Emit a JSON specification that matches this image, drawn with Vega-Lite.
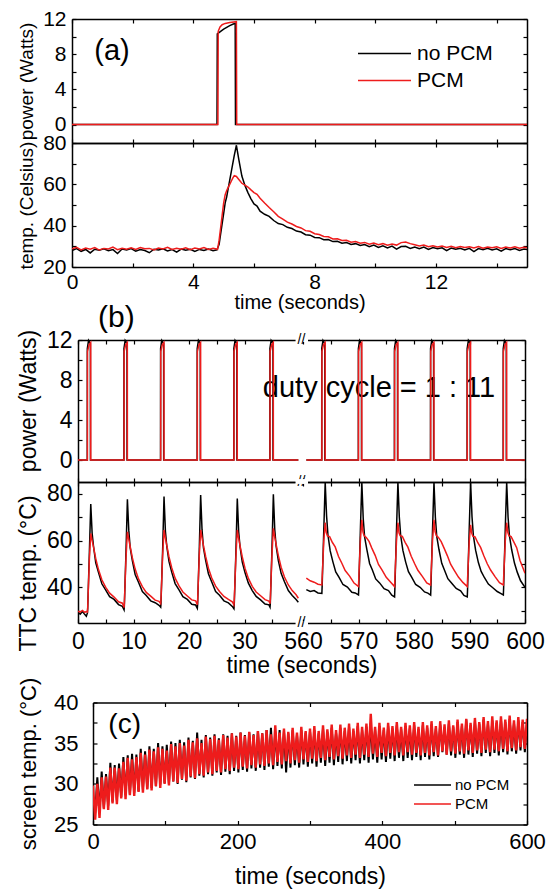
{
"$schema": "https://vega.github.io/schema/vega-lite/v6.json",
"background": "white",
"padding": {"left": 17, "top": 8, "right": 4, "bottom": 0},
"config": {
  "view": {"stroke": null},
  "font": "Liberation Sans",
  "axis": {"grid": false, "domainColor": "#000000", "domainWidth": 1.5, "tickColor": "#000000", "tickWidth": 1.2, "tickSize": -4, "labelColor": "#000000", "titleColor": "#000000", "titleFontWeight": "normal", "labelFlush": false, "labelOverlap": false, "labelBound": false, "labelFont": "Liberation Sans", "titleFont": "Liberation Sans"},
  "line": {"strokeWidth": 1.5},
  "legend": {"labelFont": "Liberation Sans", "labelColor": "#000000"}
},
"datasets": {
"pa_b": [{"t":0,"v":0},{"t":4.78,"v":0},{"t":4.79,"v":10.3},{"t":4.9,"v":10.6},{"t":5.0,"v":10.85},{"t":5.1,"v":11.05},{"t":5.2,"v":11.25},{"t":5.3,"v":11.4},{"t":5.38,"v":11.5},{"t":5.39,"v":0},{"t":15,"v":0}],
"pa_r": [{"t":0,"v":0},{"t":4.81,"v":0},{"t":4.82,"v":10.6},{"t":4.88,"v":11.1},{"t":4.95,"v":11.35},{"t":5.05,"v":11.5},{"t":5.2,"v":11.6},{"t":5.42,"v":11.7},{"t":5.43,"v":0},{"t":15,"v":0}],
"ta_b": [{"t":0,"v":28.0},{"t":0.15,"v":28.9},{"t":0.3,"v":27.6},{"t":0.45,"v":28.5},{"t":0.6,"v":26.8},{"t":0.75,"v":28.6},{"t":0.9,"v":28.1},{"t":1.05,"v":28.8},{"t":1.2,"v":27.9},{"t":1.35,"v":28.4},{"t":1.5,"v":26.5},{"t":1.65,"v":28.7},{"t":1.8,"v":28.2},{"t":1.95,"v":28.9},{"t":2.1,"v":27.7},{"t":2.25,"v":28.5},{"t":2.4,"v":28.0},{"t":2.55,"v":26.9},{"t":2.7,"v":28.6},{"t":2.85,"v":28.2},{"t":3.0,"v":28.8},{"t":3.15,"v":27.8},{"t":3.3,"v":28.4},{"t":3.45,"v":27.2},{"t":3.6,"v":28.7},{"t":3.75,"v":28.1},{"t":3.9,"v":28.6},{"t":4.05,"v":27.5},{"t":4.2,"v":28.5},{"t":4.35,"v":28.0},{"t":4.5,"v":28.7},{"t":4.65,"v":27.9},{"t":4.78,"v":28.3},{"t":4.85,"v":31},{"t":4.9,"v":36},{"t":4.95,"v":41},{"t":5.0,"v":46},{"t":5.05,"v":51},{"t":5.1,"v":54},{"t":5.15,"v":58},{"t":5.2,"v":62},{"t":5.25,"v":66},{"t":5.3,"v":70},{"t":5.35,"v":74},{"t":5.42,"v":78.9},{"t":5.5,"v":72},{"t":5.6,"v":64},{"t":5.7,"v":59.5},{"t":5.8,"v":56},{"t":5.9,"v":53},{"t":6.0,"v":50.5},{"t":6.1,"v":49.5},{"t":6.2,"v":47},{"t":6.35,"v":45.5},{"t":6.5,"v":44.5},{"t":6.65,"v":42.5},{"t":6.8,"v":41.0},{"t":6.95,"v":40.5},{"t":7.1,"v":39.2},{"t":7.25,"v":38.6},{"t":7.4,"v":37.4},{"t":7.55,"v":36.9},{"t":7.7,"v":35.6},{"t":7.85,"v":35.4},{"t":8.0,"v":34.3},{"t":8.15,"v":34.2},{"t":8.3,"v":33.2},{"t":8.45,"v":33.3},{"t":8.6,"v":32.3},{"t":8.75,"v":32.4},{"t":8.9,"v":31.5},{"t":9.05,"v":31.8},{"t":9.2,"v":30.9},{"t":9.35,"v":31.3},{"t":9.5,"v":30.4},{"t":9.65,"v":30.9},{"t":9.8,"v":29.8},{"t":9.95,"v":30.6},{"t":10.1,"v":29.5},{"t":10.25,"v":30.3},{"t":10.4,"v":29.2},{"t":10.55,"v":30.1},{"t":10.7,"v":28.6},{"t":10.85,"v":29.9},{"t":11.0,"v":30.0},{"t":11.15,"v":29.0},{"t":11.3,"v":29.7},{"t":11.45,"v":28.9},{"t":11.6,"v":29.6},{"t":11.75,"v":28.5},{"t":11.9,"v":29.4},{"t":12.05,"v":28.8},{"t":12.2,"v":29.3},{"t":12.35,"v":27.9},{"t":12.5,"v":29.2},{"t":12.65,"v":28.6},{"t":12.8,"v":29.1},{"t":12.95,"v":28.3},{"t":13.1,"v":29.0},{"t":13.25,"v":27.4},{"t":13.4,"v":28.9},{"t":13.55,"v":28.4},{"t":13.7,"v":29.0},{"t":13.85,"v":28.2},{"t":14.0,"v":28.8},{"t":14.15,"v":27.7},{"t":14.3,"v":28.9},{"t":14.45,"v":28.3},{"t":14.6,"v":28.9},{"t":14.75,"v":28.0},{"t":14.9,"v":28.7},{"t":15.0,"v":28.4}],
"ta_r": [{"t":0,"v":28.8},{"t":0.15,"v":29.5},{"t":0.3,"v":28.3},{"t":0.45,"v":29.2},{"t":0.6,"v":28.6},{"t":0.75,"v":29.4},{"t":0.9,"v":28.2},{"t":1.05,"v":29.0},{"t":1.2,"v":28.7},{"t":1.35,"v":29.6},{"t":1.5,"v":28.4},{"t":1.65,"v":29.1},{"t":1.8,"v":28.6},{"t":1.95,"v":29.3},{"t":2.1,"v":28.5},{"t":2.25,"v":29.4},{"t":2.4,"v":28.8},{"t":2.55,"v":29.0},{"t":2.7,"v":28.3},{"t":2.85,"v":29.2},{"t":3.0,"v":28.7},{"t":3.15,"v":29.5},{"t":3.3,"v":28.5},{"t":3.45,"v":29.1},{"t":3.6,"v":28.6},{"t":3.75,"v":29.3},{"t":3.9,"v":28.4},{"t":4.05,"v":29.2},{"t":4.2,"v":28.7},{"t":4.35,"v":29.4},{"t":4.5,"v":28.5},{"t":4.65,"v":29.1},{"t":4.8,"v":28.6},{"t":4.85,"v":33},{"t":4.9,"v":39},{"t":4.95,"v":45},{"t":5.0,"v":51},{"t":5.05,"v":55},{"t":5.1,"v":57},{"t":5.15,"v":58.5},{"t":5.2,"v":60},{"t":5.25,"v":61.5},{"t":5.3,"v":63},{"t":5.35,"v":64.2},{"t":5.42,"v":63.8},{"t":5.5,"v":62.3},{"t":5.6,"v":60.5},{"t":5.7,"v":59.6},{"t":5.8,"v":58.7},{"t":5.9,"v":57.3},{"t":6.0,"v":56.0},{"t":6.1,"v":55.2},{"t":6.2,"v":53.3},{"t":6.35,"v":51.0},{"t":6.5,"v":48.8},{"t":6.65,"v":46.7},{"t":6.8,"v":44.5},{"t":6.95,"v":43.2},{"t":7.1,"v":41.7},{"t":7.25,"v":40.8},{"t":7.4,"v":39.6},{"t":7.55,"v":38.9},{"t":7.7,"v":37.6},{"t":7.85,"v":37.3},{"t":8.0,"v":36.1},{"t":8.15,"v":35.7},{"t":8.3,"v":34.8},{"t":8.45,"v":34.6},{"t":8.6,"v":33.6},{"t":8.75,"v":33.7},{"t":8.9,"v":32.8},{"t":9.05,"v":32.9},{"t":9.2,"v":32.0},{"t":9.35,"v":32.3},{"t":9.5,"v":31.5},{"t":9.65,"v":31.9},{"t":9.8,"v":31.0},{"t":9.95,"v":31.6},{"t":10.1,"v":30.8},{"t":10.25,"v":31.3},{"t":10.4,"v":30.5},{"t":10.55,"v":31.1},{"t":10.7,"v":30.6},{"t":10.85,"v":31.8},{"t":11.0,"v":32.1},{"t":11.15,"v":31.3},{"t":11.3,"v":30.8},{"t":11.45,"v":30.2},{"t":11.6,"v":30.6},{"t":11.75,"v":29.8},{"t":11.9,"v":30.3},{"t":12.05,"v":29.7},{"t":12.2,"v":30.2},{"t":12.35,"v":29.5},{"t":12.5,"v":30.0},{"t":12.65,"v":29.3},{"t":12.8,"v":29.9},{"t":12.95,"v":29.4},{"t":13.1,"v":29.8},{"t":13.25,"v":29.2},{"t":13.4,"v":29.9},{"t":13.55,"v":29.1},{"t":13.7,"v":29.7},{"t":13.85,"v":29.3},{"t":14.0,"v":29.8},{"t":14.15,"v":29.0},{"t":14.3,"v":29.7},{"t":14.45,"v":29.2},{"t":14.6,"v":29.8},{"t":14.75,"v":29.1},{"t":14.9,"v":29.6},{"t":15.0,"v":29.3}],
"pb_b": [{"t":0,"v":0},{"t":1.67,"v":0},{"t":1.68,"v":11.2},{"t":1.9,"v":12.0},{"t":2.23,"v":11.7},{"t":2.24,"v":0},{"t":8.27,"v":0},{"t":8.28,"v":11.2},{"t":8.5,"v":12.0},{"t":8.83,"v":11.7},{"t":8.84,"v":0},{"t":14.87,"v":0},{"t":14.88,"v":11.2},{"t":15.1,"v":12.0},{"t":15.43,"v":11.7},{"t":15.44,"v":0},{"t":21.47,"v":0},{"t":21.48,"v":11.2},{"t":21.7,"v":12.0},{"t":22.03,"v":11.7},{"t":22.04,"v":0},{"t":28.07,"v":0},{"t":28.08,"v":11.2},{"t":28.3,"v":12.0},{"t":28.63,"v":11.7},{"t":28.64,"v":0},{"t":34.57,"v":0},{"t":34.58,"v":11.2},{"t":34.8,"v":12.0},{"t":35.13,"v":11.7},{"t":35.14,"v":0},{"t":39.7,"v":0},{"t":560.6,"v":0},{"t":563.37,"v":0},{"t":563.38,"v":11.2},{"t":563.6,"v":12.0},{"t":563.93,"v":11.7},{"t":563.94,"v":0},{"t":569.97,"v":0},{"t":569.98,"v":11.2},{"t":570.2,"v":12.0},{"t":570.53,"v":11.7},{"t":570.54,"v":0},{"t":576.47,"v":0},{"t":576.48,"v":11.2},{"t":576.7,"v":12.0},{"t":577.03,"v":11.7},{"t":577.04,"v":0},{"t":582.97,"v":0},{"t":582.98,"v":11.2},{"t":583.2,"v":12.0},{"t":583.53,"v":11.7},{"t":583.54,"v":0},{"t":589.57,"v":0},{"t":589.58,"v":11.2},{"t":589.8,"v":12.0},{"t":590.13,"v":11.7},{"t":590.14,"v":0},{"t":596.07,"v":0},{"t":596.08,"v":11.2},{"t":596.3,"v":12.0},{"t":596.63,"v":11.7},{"t":596.64,"v":0},{"t":600,"v":0}],
"pb_r": [{"t":0,"v":0},{"t":1.7,"v":0},{"t":1.71,"v":10.9},{"t":2.0,"v":11.6},{"t":2.29,"v":11.8},{"t":2.3,"v":0},{"t":8.3,"v":0},{"t":8.31,"v":10.9},{"t":8.6,"v":11.6},{"t":8.89,"v":11.8},{"t":8.9,"v":0},{"t":14.9,"v":0},{"t":14.91,"v":10.9},{"t":15.2,"v":11.6},{"t":15.49,"v":11.8},{"t":15.5,"v":0},{"t":21.5,"v":0},{"t":21.51,"v":10.9},{"t":21.8,"v":11.6},{"t":22.09,"v":11.8},{"t":22.1,"v":0},{"t":28.1,"v":0},{"t":28.11,"v":10.9},{"t":28.4,"v":11.6},{"t":28.69,"v":11.8},{"t":28.7,"v":0},{"t":34.6,"v":0},{"t":34.61,"v":10.9},{"t":34.9,"v":11.6},{"t":35.19,"v":11.8},{"t":35.2,"v":0},{"t":39.7,"v":0},{"t":560.6,"v":0},{"t":563.4,"v":0},{"t":563.41,"v":10.9},{"t":563.7,"v":11.6},{"t":563.99,"v":11.8},{"t":564.0,"v":0},{"t":570.0,"v":0},{"t":570.01,"v":10.9},{"t":570.3,"v":11.6},{"t":570.59,"v":11.8},{"t":570.6,"v":0},{"t":576.5,"v":0},{"t":576.51,"v":10.9},{"t":576.8,"v":11.6},{"t":577.09,"v":11.8},{"t":577.1,"v":0},{"t":583.0,"v":0},{"t":583.01,"v":10.9},{"t":583.3,"v":11.6},{"t":583.59,"v":11.8},{"t":583.6,"v":0},{"t":589.6,"v":0},{"t":589.61,"v":10.9},{"t":589.9,"v":11.6},{"t":590.19,"v":11.8},{"t":590.2,"v":0},{"t":596.1,"v":0},{"t":596.11,"v":10.9},{"t":596.4,"v":11.6},{"t":596.69,"v":11.8},{"t":596.7,"v":0},{"t":600,"v":0}],
"tb_b": [{"t":0,"v":29.3},{"t":0.4,"v":28.5},{"t":0.8,"v":29.6},{"t":1.2,"v":28.4},{"t":1.5,"v":27.6},{"t":1.7,"v":29.0},{"t":1.75,"v":31},{"t":2.05,"v":55},{"t":2.3,"v":75.7},{"t":2.55,"v":63},{"t":2.8,"v":57.5},{"t":3.2,"v":50.5},{"t":3.7,"v":46.3},{"t":4.3,"v":41.5},{"t":5.0,"v":38.8},{"t":5.7,"v":36},{"t":6.5,"v":34.8},{"t":7.3,"v":32.6},{"t":8.0,"v":31.8},{"t":8.3,"v":30.3},{"t":8.35,"v":32},{"t":8.65,"v":55.5},{"t":8.9,"v":77.7},{"t":9.15,"v":64.5},{"t":9.4,"v":57},{"t":9.8,"v":51.3},{"t":10.3,"v":45.5},{"t":10.9,"v":42.2},{"t":11.6,"v":38.2},{"t":12.3,"v":36.5},{"t":13.1,"v":34.2},{"t":13.9,"v":33.4},{"t":14.6,"v":32.3},{"t":14.9,"v":31.5},{"t":14.95,"v":33},{"t":15.25,"v":56},{"t":15.5,"v":78.9},{"t":15.75,"v":64},{"t":16.0,"v":57.5},{"t":16.4,"v":51},{"t":16.9,"v":46.4},{"t":17.5,"v":41.6},{"t":18.2,"v":38.9},{"t":18.9,"v":36},{"t":19.7,"v":34.8},{"t":20.5,"v":32.7},{"t":21.2,"v":32.4},{"t":21.5,"v":31.0},{"t":21.55,"v":32.5},{"t":21.85,"v":56},{"t":22.1,"v":79.6},{"t":22.35,"v":64.6},{"t":22.6,"v":57},{"t":23.0,"v":51.5},{"t":23.5,"v":45.8},{"t":24.1,"v":42.3},{"t":24.8,"v":38.2},{"t":25.5,"v":36.6},{"t":26.3,"v":34.2},{"t":27.1,"v":33.3},{"t":27.8,"v":31.8},{"t":28.1,"v":30.8},{"t":28.15,"v":32.3},{"t":28.45,"v":55},{"t":28.7,"v":78.1},{"t":28.95,"v":63.8},{"t":29.2,"v":57.3},{"t":29.6,"v":50.8},{"t":30.1,"v":46.2},{"t":30.7,"v":41.8},{"t":31.4,"v":38.6},{"t":32.1,"v":36.1},{"t":32.9,"v":34.6},{"t":33.7,"v":32.8},{"t":34.4,"v":32.5},{"t":34.6,"v":31.5},{"t":34.65,"v":33},{"t":34.95,"v":56.5},{"t":35.2,"v":79.9},{"t":35.45,"v":64.8},{"t":35.7,"v":57.6},{"t":36.1,"v":51.4},{"t":36.6,"v":46},{"t":37.2,"v":42.4},{"t":37.9,"v":38.6},{"t":38.6,"v":36.5},{"t":39.3,"v":34.8},{"t":39.7,"v":33.6},{"t":560.6,"v":39.0},{"t":561.3,"v":38.2},{"t":562.0,"v":38.6},{"t":562.7,"v":37.6},{"t":563.4,"v":37.4},{"t":563.45,"v":40.5},{"t":563.75,"v":65},{"t":564.0,"v":85},{"t":564.25,"v":70.5},{"t":564.5,"v":62.3},{"t":564.9,"v":55.6},{"t":565.4,"v":50.8},{"t":565.9,"v":46.6},{"t":566.5,"v":44.3},{"t":567.2,"v":41.2},{"t":568.0,"v":40.1},{"t":568.8,"v":37.9},{"t":569.4,"v":37.6},{"t":570.0,"v":36.7},{"t":570.05,"v":39.8},{"t":570.35,"v":65.5},{"t":570.6,"v":85},{"t":570.85,"v":69.5},{"t":571.1,"v":61.6},{"t":571.5,"v":56.3},{"t":572.0,"v":50.2},{"t":572.5,"v":47.4},{"t":573.1,"v":43.6},{"t":573.8,"v":41.9},{"t":574.6,"v":39.4},{"t":575.4,"v":38.6},{"t":576.0,"v":36.6},{"t":576.5,"v":35.9},{"t":576.55,"v":39},{"t":576.85,"v":65},{"t":577.1,"v":85},{"t":577.35,"v":70.2},{"t":577.6,"v":62.2},{"t":578.0,"v":55.8},{"t":578.5,"v":50.8},{"t":579.0,"v":46.7},{"t":579.6,"v":44.3},{"t":580.3,"v":41.2},{"t":581.1,"v":40.0},{"t":581.9,"v":38},{"t":582.5,"v":37.5},{"t":583.0,"v":36.7},{"t":583.05,"v":39.8},{"t":583.35,"v":65.5},{"t":583.6,"v":85},{"t":583.85,"v":70},{"t":584.1,"v":61.8},{"t":584.5,"v":56.2},{"t":585.0,"v":50.3},{"t":585.5,"v":47.3},{"t":586.1,"v":43.7},{"t":586.8,"v":41.7},{"t":587.6,"v":39.5},{"t":588.4,"v":38.5},{"t":589.0,"v":36.5},{"t":589.6,"v":35.9},{"t":589.65,"v":39},{"t":589.95,"v":65},{"t":590.2,"v":85},{"t":590.45,"v":70.3},{"t":590.7,"v":62.1},{"t":591.1,"v":55.9},{"t":591.6,"v":50.6},{"t":592.1,"v":46.8},{"t":592.7,"v":44.1},{"t":593.4,"v":41.4},{"t":594.2,"v":39.8},{"t":595.0,"v":38.2},{"t":595.6,"v":37.4},{"t":596.1,"v":36.7},{"t":596.15,"v":39.8},{"t":596.45,"v":65.5},{"t":596.7,"v":85},{"t":596.95,"v":70},{"t":597.2,"v":62},{"t":597.6,"v":56.1},{"t":598.1,"v":50.4},{"t":598.6,"v":46.5},{"t":599.2,"v":42.8},{"t":600,"v":40}],
"tb_r": [{"t":0,"v":29.8},{"t":0.4,"v":29.4},{"t":0.8,"v":30.1},{"t":1.2,"v":29.3},{"t":1.5,"v":29.6},{"t":1.7,"v":29.4},{"t":1.75,"v":31.5},{"t":2.05,"v":52},{"t":2.3,"v":63.1},{"t":2.55,"v":60},{"t":2.8,"v":57.2},{"t":3.2,"v":52.3},{"t":3.7,"v":47.5},{"t":4.3,"v":43.2},{"t":5.0,"v":40},{"t":5.7,"v":37.5},{"t":6.5,"v":35.8},{"t":7.3,"v":33.8},{"t":8.0,"v":33.2},{"t":8.3,"v":31.3},{"t":8.35,"v":33},{"t":8.65,"v":52.5},{"t":8.9,"v":63.8},{"t":9.15,"v":60.5},{"t":9.4,"v":57.5},{"t":9.8,"v":52.6},{"t":10.3,"v":47.8},{"t":10.9,"v":43.6},{"t":11.6,"v":40.3},{"t":12.3,"v":37.8},{"t":13.1,"v":36.2},{"t":13.9,"v":34.5},{"t":14.6,"v":34},{"t":14.9,"v":33},{"t":14.95,"v":34.5},{"t":15.25,"v":53.5},{"t":15.5,"v":64.6},{"t":15.75,"v":61},{"t":16.0,"v":58},{"t":16.4,"v":53},{"t":16.9,"v":48.3},{"t":17.5,"v":43.9},{"t":18.2,"v":40.6},{"t":18.9,"v":38},{"t":19.7,"v":36.3},{"t":20.5,"v":34.6},{"t":21.2,"v":34.2},{"t":21.5,"v":32.6},{"t":21.55,"v":34},{"t":21.85,"v":53.5},{"t":22.1,"v":64.6},{"t":22.35,"v":61.2},{"t":22.6,"v":58},{"t":23.0,"v":53.2},{"t":23.5,"v":48.2},{"t":24.1,"v":44},{"t":24.8,"v":40.5},{"t":25.5,"v":38.2},{"t":26.3,"v":36.1},{"t":27.1,"v":34.8},{"t":27.8,"v":33.8},{"t":28.1,"v":32.4},{"t":28.15,"v":34},{"t":28.45,"v":53},{"t":28.7,"v":64.6},{"t":28.95,"v":61},{"t":29.2,"v":57.8},{"t":29.6,"v":53},{"t":30.1,"v":48.1},{"t":30.7,"v":43.8},{"t":31.4,"v":40.4},{"t":32.1,"v":38},{"t":32.9,"v":36.4},{"t":33.7,"v":34.7},{"t":34.4,"v":34.1},{"t":34.6,"v":33},{"t":34.65,"v":34.5},{"t":34.95,"v":54},{"t":35.2,"v":65.3},{"t":35.45,"v":61.5},{"t":35.7,"v":58.4},{"t":36.1,"v":53.6},{"t":36.6,"v":48.6},{"t":37.2,"v":44.4},{"t":37.9,"v":41},{"t":38.6,"v":38.6},{"t":39.3,"v":36.8},{"t":39.7,"v":35.3},{"t":560.6,"v":43.9},{"t":561.3,"v":42.8},{"t":562.0,"v":42.2},{"t":562.7,"v":41.3},{"t":563.4,"v":41.0},{"t":563.45,"v":44},{"t":563.75,"v":60},{"t":564.0,"v":67.7},{"t":564.2,"v":63.5},{"t":564.4,"v":62},{"t":564.8,"v":61.7},{"t":565.3,"v":59.2},{"t":565.8,"v":57.3},{"t":566.4,"v":53.2},{"t":567.0,"v":50.3},{"t":567.6,"v":47.2},{"t":568.4,"v":44.8},{"t":569.2,"v":41.8},{"t":570.0,"v":40.3},{"t":570.05,"v":43.5},{"t":570.35,"v":60.5},{"t":570.6,"v":68.9},{"t":570.8,"v":63.8},{"t":571.0,"v":62.2},{"t":571.4,"v":61.3},{"t":571.9,"v":59.7},{"t":572.4,"v":56.8},{"t":573.0,"v":53.7},{"t":573.6,"v":49.8},{"t":574.2,"v":47.6},{"t":575.0,"v":44.3},{"t":575.8,"v":42.2},{"t":576.5,"v":40.3},{"t":576.55,"v":43.5},{"t":576.85,"v":60},{"t":577.1,"v":67.7},{"t":577.3,"v":63.4},{"t":577.5,"v":62.1},{"t":577.9,"v":61.8},{"t":578.4,"v":59.3},{"t":578.9,"v":57.2},{"t":579.5,"v":53.3},{"t":580.1,"v":50.2},{"t":580.7,"v":47.3},{"t":581.5,"v":44.7},{"t":582.3,"v":41.9},{"t":583.0,"v":41.0},{"t":583.05,"v":44},{"t":583.35,"v":60.5},{"t":583.6,"v":68.9},{"t":583.8,"v":63.9},{"t":584.0,"v":62.3},{"t":584.4,"v":61.4},{"t":584.9,"v":59.6},{"t":585.4,"v":56.9},{"t":586.0,"v":53.6},{"t":586.6,"v":49.9},{"t":587.2,"v":47.5},{"t":588.0,"v":44.4},{"t":588.8,"v":42.1},{"t":589.6,"v":40.3},{"t":589.65,"v":43.5},{"t":589.95,"v":59.5},{"t":590.2,"v":66.8},{"t":590.4,"v":63.2},{"t":590.6,"v":61.9},{"t":591.0,"v":61.6},{"t":591.5,"v":59.1},{"t":592.0,"v":57.1},{"t":592.6,"v":53.4},{"t":593.2,"v":50.1},{"t":593.8,"v":47.4},{"t":594.6,"v":44.6},{"t":595.4,"v":42},{"t":596.1,"v":41.0},{"t":596.15,"v":44},{"t":596.45,"v":60},{"t":596.7,"v":67.7},{"t":596.9,"v":63.6},{"t":597.1,"v":62.1},{"t":597.5,"v":61.7},{"t":598.0,"v":59.4},{"t":598.5,"v":57},{"t":599.1,"v":51.5},{"t":599.6,"v":48.5},{"t":600,"v":46}],
"c_r": [{"t":0,"v":29.8},{"t":3,"v":25.6},{"t":6,"v":30.0},{"t":9,"v":25.8},{"t":12,"v":30.8},{"t":15,"v":26.9},{"t":18,"v":30.9},{"t":21,"v":26.8},{"t":24,"v":32.0},{"t":27,"v":27.6},{"t":30,"v":32.0},{"t":33,"v":27.5},{"t":36,"v":31.9},{"t":39,"v":28.2},{"t":42,"v":32.7},{"t":45,"v":28.1},{"t":48,"v":33.2},{"t":51,"v":28.6},{"t":54,"v":33.0},{"t":57,"v":28.5},{"t":60,"v":33.3},{"t":63,"v":29.0},{"t":66,"v":33.8},{"t":69,"v":28.9},{"t":72,"v":33.6},{"t":75,"v":29.3},{"t":78,"v":34.2},{"t":81,"v":29.2},{"t":84,"v":34.0},{"t":87,"v":29.7},{"t":90,"v":34.5},{"t":93,"v":29.5},{"t":96,"v":34.3},{"t":99,"v":30.0},{"t":102,"v":34.1},{"t":105,"v":29.8},{"t":108,"v":34.9},{"t":111,"v":30.3},{"t":114,"v":34.6},{"t":117,"v":30.1},{"t":120,"v":35.0},{"t":123,"v":30.6},{"t":126,"v":34.7},{"t":129,"v":30.4},{"t":132,"v":35.4},{"t":135,"v":30.9},{"t":138,"v":35.1},{"t":141,"v":30.7},{"t":144,"v":35.6},{"t":147,"v":31.2},{"t":150,"v":35.0},{"t":153,"v":31.0},{"t":156,"v":35.8},{"t":159,"v":31.4},{"t":162,"v":35.5},{"t":165,"v":31.2},{"t":168,"v":35.9},{"t":171,"v":31.6},{"t":174,"v":35.4},{"t":177,"v":31.4},{"t":180,"v":36.0},{"t":183,"v":31.8},{"t":186,"v":35.7},{"t":189,"v":31.6},{"t":192,"v":36.2},{"t":195,"v":32.0},{"t":198,"v":35.8},{"t":201,"v":31.8},{"t":204,"v":36.3},{"t":207,"v":32.1},{"t":210,"v":35.9},{"t":213,"v":31.9},{"t":216,"v":36.4},{"t":219,"v":32.3},{"t":222,"v":36.0},{"t":225,"v":32.0},{"t":228,"v":36.5},{"t":231,"v":32.4},{"t":234,"v":36.2},{"t":237,"v":32.2},{"t":240,"v":36.6},{"t":243,"v":32.5},{"t":246,"v":36.1},{"t":249,"v":32.3},{"t":252,"v":37.2},{"t":255,"v":32.7},{"t":258,"v":36.3},{"t":261,"v":32.4},{"t":264,"v":36.8},{"t":267,"v":32.8},{"t":270,"v":36.4},{"t":273,"v":32.5},{"t":276,"v":36.9},{"t":279,"v":32.9},{"t":282,"v":36.3},{"t":285,"v":32.6},{"t":288,"v":37.0},{"t":291,"v":33.0},{"t":294,"v":36.5},{"t":297,"v":32.7},{"t":300,"v":36.8},{"t":303,"v":33.1},{"t":306,"v":37.1},{"t":309,"v":32.8},{"t":312,"v":36.5},{"t":315,"v":33.2},{"t":318,"v":37.2},{"t":321,"v":32.9},{"t":324,"v":36.7},{"t":327,"v":33.3},{"t":330,"v":37.3},{"t":333,"v":33.0},{"t":336,"v":36.6},{"t":339,"v":33.4},{"t":342,"v":37.3},{"t":345,"v":33.1},{"t":348,"v":36.9},{"t":351,"v":33.5},{"t":354,"v":37.4},{"t":357,"v":33.2},{"t":360,"v":36.8},{"t":363,"v":33.6},{"t":366,"v":37.5},{"t":369,"v":33.2},{"t":372,"v":37.0},{"t":375,"v":33.6},{"t":378,"v":37.4},{"t":381,"v":33.3},{"t":384,"v":38.6},{"t":387,"v":33.7},{"t":390,"v":37.0},{"t":393,"v":33.3},{"t":396,"v":37.5},{"t":399,"v":33.8},{"t":402,"v":36.9},{"t":405,"v":33.4},{"t":408,"v":37.5},{"t":411,"v":33.8},{"t":414,"v":37.1},{"t":417,"v":33.5},{"t":420,"v":37.6},{"t":423,"v":33.9},{"t":426,"v":37.0},{"t":429,"v":33.5},{"t":432,"v":37.5},{"t":435,"v":33.9},{"t":438,"v":37.2},{"t":441,"v":33.6},{"t":444,"v":37.6},{"t":447,"v":33.8},{"t":450,"v":37.0},{"t":453,"v":33.5},{"t":456,"v":37.6},{"t":459,"v":33.8},{"t":462,"v":37.2},{"t":465,"v":33.5},{"t":468,"v":37.7},{"t":471,"v":33.9},{"t":474,"v":37.1},{"t":477,"v":33.5},{"t":480,"v":37.7},{"t":483,"v":34.0},{"t":486,"v":37.3},{"t":489,"v":33.6},{"t":492,"v":37.8},{"t":495,"v":34.0},{"t":498,"v":37.2},{"t":501,"v":33.7},{"t":504,"v":37.9},{"t":507,"v":34.0},{"t":510,"v":37.4},{"t":513,"v":33.7},{"t":516,"v":38.0},{"t":519,"v":34.1},{"t":522,"v":37.5},{"t":525,"v":33.8},{"t":528,"v":38.1},{"t":531,"v":34.1},{"t":534,"v":37.6},{"t":537,"v":33.8},{"t":540,"v":38.2},{"t":543,"v":34.2},{"t":546,"v":37.7},{"t":549,"v":33.9},{"t":552,"v":38.3},{"t":555,"v":34.2},{"t":558,"v":37.8},{"t":561,"v":34.0},{"t":564,"v":38.3},{"t":567,"v":34.3},{"t":570,"v":37.9},{"t":573,"v":34.0},{"t":576,"v":38.4},{"t":579,"v":34.4},{"t":582,"v":37.8},{"t":585,"v":34.1},{"t":588,"v":38.2},{"t":591,"v":34.5},{"t":594,"v":37.9},{"t":597,"v":34.3},{"t":600,"v":38.0}],
"c_b": [{"t":0,"v":28.5},{"t":3,"v":26.4},{"t":6,"v":30.8},{"t":9,"v":26.5},{"t":12,"v":31.5},{"t":15,"v":27.0},{"t":18,"v":31.2},{"t":21,"v":27.3},{"t":24,"v":32.6},{"t":27,"v":27.8},{"t":30,"v":32.3},{"t":33,"v":28.0},{"t":36,"v":32.5},{"t":39,"v":28.4},{"t":42,"v":33.3},{"t":45,"v":28.6},{"t":48,"v":33.5},{"t":51,"v":28.7},{"t":54,"v":33.7},{"t":57,"v":28.9},{"t":60,"v":33.6},{"t":63,"v":29.1},{"t":66,"v":34.3},{"t":69,"v":29.3},{"t":72,"v":34.0},{"t":75,"v":29.4},{"t":78,"v":34.6},{"t":81,"v":29.5},{"t":84,"v":34.3},{"t":87,"v":29.7},{"t":90,"v":35.0},{"t":93,"v":29.9},{"t":96,"v":34.6},{"t":99,"v":30.1},{"t":102,"v":34.8},{"t":105,"v":30.0},{"t":108,"v":35.2},{"t":111,"v":30.3},{"t":114,"v":35.0},{"t":117,"v":30.0},{"t":120,"v":35.4},{"t":123,"v":30.5},{"t":126,"v":35.1},{"t":129,"v":30.2},{"t":132,"v":35.7},{"t":135,"v":30.8},{"t":138,"v":35.3},{"t":141,"v":30.6},{"t":144,"v":36.3},{"t":147,"v":31.0},{"t":150,"v":35.4},{"t":153,"v":30.8},{"t":156,"v":36.0},{"t":159,"v":31.2},{"t":162,"v":35.7},{"t":165,"v":31.0},{"t":168,"v":36.1},{"t":171,"v":31.4},{"t":174,"v":35.6},{"t":177,"v":31.1},{"t":180,"v":36.1},{"t":183,"v":31.5},{"t":186,"v":35.9},{"t":189,"v":31.2},{"t":192,"v":36.2},{"t":195,"v":31.6},{"t":198,"v":35.9},{"t":201,"v":31.4},{"t":204,"v":36.3},{"t":207,"v":31.7},{"t":210,"v":36.0},{"t":213,"v":31.5},{"t":216,"v":36.3},{"t":219,"v":31.9},{"t":222,"v":36.1},{"t":225,"v":31.6},{"t":228,"v":36.5},{"t":231,"v":32.0},{"t":234,"v":36.2},{"t":237,"v":31.7},{"t":240,"v":36.6},{"t":243,"v":32.1},{"t":246,"v":36.9},{"t":249,"v":31.8},{"t":252,"v":36.4},{"t":255,"v":32.2},{"t":258,"v":36.6},{"t":261,"v":31.9},{"t":264,"v":36.5},{"t":267,"v":31.4},{"t":270,"v":36.2},{"t":273,"v":32.0},{"t":276,"v":36.6},{"t":279,"v":32.3},{"t":282,"v":36.1},{"t":285,"v":32.0},{"t":288,"v":36.6},{"t":291,"v":32.4},{"t":294,"v":36.3},{"t":297,"v":32.1},{"t":300,"v":36.5},{"t":303,"v":32.5},{"t":306,"v":36.6},{"t":309,"v":32.1},{"t":312,"v":36.2},{"t":315,"v":32.6},{"t":318,"v":36.8},{"t":321,"v":32.2},{"t":324,"v":36.4},{"t":327,"v":32.6},{"t":330,"v":36.9},{"t":333,"v":32.3},{"t":336,"v":36.3},{"t":339,"v":32.7},{"t":342,"v":36.9},{"t":345,"v":32.4},{"t":348,"v":36.5},{"t":351,"v":32.8},{"t":354,"v":37.0},{"t":357,"v":32.5},{"t":360,"v":36.5},{"t":363,"v":32.9},{"t":366,"v":37.1},{"t":369,"v":32.5},{"t":372,"v":36.6},{"t":375,"v":32.9},{"t":378,"v":37.0},{"t":381,"v":32.6},{"t":384,"v":37.5},{"t":387,"v":33.0},{"t":390,"v":36.7},{"t":393,"v":32.6},{"t":396,"v":37.1},{"t":399,"v":33.0},{"t":402,"v":36.6},{"t":405,"v":32.7},{"t":408,"v":37.1},{"t":411,"v":33.1},{"t":414,"v":36.8},{"t":417,"v":32.8},{"t":420,"v":37.2},{"t":423,"v":33.2},{"t":426,"v":36.7},{"t":429,"v":32.8},{"t":432,"v":37.1},{"t":435,"v":33.2},{"t":438,"v":36.8},{"t":441,"v":32.9},{"t":444,"v":37.2},{"t":447,"v":33.3},{"t":450,"v":36.7},{"t":453,"v":32.9},{"t":456,"v":37.2},{"t":459,"v":33.3},{"t":462,"v":36.9},{"t":465,"v":33.0},{"t":468,"v":37.3},{"t":471,"v":33.4},{"t":474,"v":36.8},{"t":477,"v":33.3},{"t":480,"v":37.3},{"t":483,"v":33.9},{"t":486,"v":36.9},{"t":489,"v":33.6},{"t":492,"v":37.4},{"t":495,"v":33.5},{"t":498,"v":37.0},{"t":501,"v":33.2},{"t":504,"v":37.6},{"t":507,"v":33.6},{"t":510,"v":37.1},{"t":513,"v":33.2},{"t":516,"v":37.9},{"t":519,"v":33.6},{"t":522,"v":37.2},{"t":525,"v":33.3},{"t":528,"v":37.7},{"t":531,"v":33.7},{"t":534,"v":37.4},{"t":537,"v":33.4},{"t":540,"v":37.9},{"t":543,"v":33.8},{"t":546,"v":37.4},{"t":549,"v":33.4},{"t":552,"v":37.8},{"t":555,"v":33.8},{"t":558,"v":37.5},{"t":561,"v":33.5},{"t":564,"v":37.9},{"t":567,"v":33.9},{"t":570,"v":37.6},{"t":573,"v":33.6},{"t":576,"v":38.0},{"t":579,"v":34.0},{"t":582,"v":37.5},{"t":585,"v":33.7},{"t":588,"v":37.8},{"t":591,"v":34.1},{"t":594,"v":37.6},{"t":597,"v":33.9},{"t":600,"v":37.7}]
},
"resolve": {"scale": {"color": "independent"}, "legend": {"color": "independent"}},
"align": "none",
"spacing": -1.5,
"vconcat": [
 {
  "align": "none",
  "spacing": -11,
  "resolve": {"scale": {"color": "independent"}, "legend": {"color": "independent"}},
  "vconcat": [
   {
    "bounds": "flush",
    "spacing": 0,
    "resolve": {"scale": {"color": "independent"}, "legend": {"color": "independent"}},
    "vconcat": [
     {
      "width": 455, "height": 124,
      "resolve": {"axis": {"x": "independent", "y": "independent"}},
      "layer": [
       {"data": {"name": "pa_b"}, "mark": {"type": "line", "clip": true},
        "encoding": {
         "x": {"field": "t", "type": "quantitative", "scale": {"domain": [0, 15], "nice": false, "zero": false}, "axis": {"orient": "bottom", "values": [0,2,4,6,8,10,12,14], "labels": false, "title": null}},
         "y": {"field": "v", "type": "quantitative", "scale": {"domain": [-2.1, 12], "nice": false, "zero": false}, "axis": {"orient": "left", "values": [0,2,4,6,8,10,12], "labelExpr": "datum.value % 4 == 0 ? datum.label : ''", "labelFontSize": 21, "labelPadding": 10, "title": "power (Watts)", "titleFontSize": 19, "titlePadding": 6.6}},
         "color": {"datum": "no PCM", "scale": {"domain": ["no PCM", "PCM"], "range": ["#000000", "#ee1c1c"]}, "legend": {"orient": "none", "legendX": 285, "legendY": 21, "title": null, "symbolType": "stroke", "symbolSize": 2809, "symbolStrokeWidth": 3.5, "clipHeight": 27, "labelFontSize": 21, "labelOffset": 5, "padding": 0, "rowPadding": 0}}
        }},
       {"data": {"name": "pa_r"}, "mark": {"type": "line", "clip": true},
        "encoding": {
         "x": {"field": "t", "type": "quantitative", "axis": {"orient": "top", "values": [0,2,4,6,8,10,12,14], "labels": false, "title": null}},
         "y": {"field": "v", "type": "quantitative", "axis": {"orient": "right", "values": [0,2,4,6,8,10,12], "labels": false, "title": null}},
         "color": {"datum": "PCM"}
        }},
       {"data": {"values": [{}]}, "mark": {"type": "text", "fontSize": 29, "align": "center", "baseline": "alphabetic"},
        "encoding": {"x": {"datum": 1.32, "type": "quantitative", "axis": null}, "y": {"datum": 7.3, "type": "quantitative", "axis": null}, "text": {"value": "(a)"}}}
      ]
     },
     {
      "width": 455, "height": 124,
      "resolve": {"axis": {"x": "independent", "y": "independent"}},
      "layer": [
       {"data": {"name": "ta_b"}, "mark": {"type": "line", "color": "#000000", "clip": true},
        "encoding": {
         "x": {"field": "t", "type": "quantitative", "scale": {"domain": [0, 15], "nice": false, "zero": false}, "axis": {"orient": "bottom", "values": [0,2,4,6,8,10,12,14], "labelExpr": "datum.value % 4 == 0 ? datum.label : ''", "labelFontSize": 21, "labelPadding": 8.5, "title": "time (seconds)", "titleFontSize": 20, "titlePadding": 0}},
         "y": {"field": "v", "type": "quantitative", "scale": {"domain": [20, 80], "nice": false, "zero": false}, "axis": {"orient": "left", "values": [20,30,40,50,60,70,80], "labelExpr": "datum.value % 20 == 0 ? datum.label : ''", "labelFontSize": 21, "labelPadding": 10, "title": "temp. (Celsius)", "titleFontSize": 19, "titlePadding": 6.6}}
        }},
       {"data": {"name": "ta_r"}, "mark": {"type": "line", "color": "#ee1c1c", "clip": true},
        "encoding": {
         "x": {"field": "t", "type": "quantitative", "axis": {"orient": "top", "values": [0,2,4,6,8,10,12,14], "labels": false, "title": null}},
         "y": {"field": "v", "type": "quantitative", "axis": {"orient": "right", "values": [20,30,40,50,60,70,80], "labels": false, "title": null}}
        }}
      ]
     }
    ]
   },
   {
    "bounds": "flush",
    "spacing": 0,
    "hconcat": [
     {"width": 6, "height": 10, "data": {"values": []}, "mark": "point", "encoding": {}},
     {
      "bounds": "flush",
      "spacing": 0,
      "vconcat": [
       {
        "width": 447, "height": 142,
        "resolve": {"axis": {"x": "independent", "y": "independent"}},
        "layer": [
         {"data": {"values": [{}]}, "mark": {"type": "text", "fontSize": 29, "align": "left", "baseline": "alphabetic"},
          "encoding": {
           "x": {"datum": 33.3, "type": "quantitative", "scale": {"domain": [0, 40, 560, 600], "range": [0, 222, 225, 447], "nice": false, "zero": false}, "axis": null},
           "y": {"datum": 6.37, "type": "quantitative", "scale": {"domain": [-2.2, 12.05], "nice": false, "zero": false}, "axis": null},
           "text": {"value": "duty cycle = 1 : 11"}}},
         {"data": {"name": "pb_b"}, "transform": [{"filter": "datum.t < 100"}], "mark": {"type": "line", "color": "#000000"},
          "encoding": {
           "x": {"field": "t", "type": "quantitative", "axis": {"orient": "bottom", "values": [0,5,10,15,20,25,30,35,560,565,570,575,580,585,590,595,600], "labels": false, "title": null}},
           "y": {"field": "v", "type": "quantitative", "axis": {"orient": "left", "values": [0,2,4,6,8,10,12], "labelExpr": "datum.value % 4 == 0 ? datum.label : ''", "labelFontSize": 23, "labelPadding": 10, "title": "power (Watts)", "titleFontSize": 23, "titlePadding": 6.4, "titleY": 60.5}}}},
         {"data": {"name": "pb_b"}, "transform": [{"filter": "datum.t > 100"}], "mark": {"type": "line", "color": "#000000"},
          "encoding": {"x": {"field": "t", "type": "quantitative", "axis": null}, "y": {"field": "v", "type": "quantitative", "axis": null}}},
         {"data": {"name": "pb_r"}, "transform": [{"filter": "datum.t < 100"}], "mark": {"type": "line", "color": "#ee1c1c"},
          "encoding": {
           "x": {"field": "t", "type": "quantitative", "axis": {"orient": "top", "values": [0,5,10,15,20,25,30,35,560,565,570,575,580,585,590,595,600], "labels": false, "title": null}},
           "y": {"field": "v", "type": "quantitative", "axis": {"orient": "right", "values": [0,2,4,6,8,10,12], "labels": false, "title": null}}}},
         {"data": {"name": "pb_r"}, "transform": [{"filter": "datum.t > 100"}], "mark": {"type": "line", "color": "#ee1c1c"},
          "encoding": {"x": {"field": "t", "type": "quantitative", "axis": null}, "y": {"field": "v", "type": "quantitative", "axis": null}}},
         {"data": {"values": [{}]}, "mark": {"type": "text", "fontSize": 30, "align": "center", "baseline": "alphabetic"},
          "encoding": {"x": {"datum": 6.9, "type": "quantitative", "axis": null}, "y": {"datum": 13.4, "type": "quantitative", "axis": null}, "text": {"value": "(b)"}}},
         {"data": {"values": [{}]}, "mark": {"type": "rect", "color": "white"},
          "encoding": {"x": {"datum": 39.2, "type": "quantitative", "axis": null}, "x2": {"datum": 560.9}, "y": {"datum": 12.35, "type": "quantitative", "axis": null}, "y2": {"datum": 11.85}}},
         {"data": {"values": [{}]}, "mark": {"type": "rect", "color": "white"},
          "encoding": {"x": {"datum": 39.2, "type": "quantitative", "axis": null}, "x2": {"datum": 560.9}, "y": {"datum": -2.0, "type": "quantitative", "axis": null}, "y2": {"datum": -2.5}}},
         {"data": {"values": [{}]}, "mark": {"type": "text", "fontSize": 14, "align": "center", "baseline": "middle", "dx": 1.5},
          "encoding": {"x": {"datum": 40, "type": "quantitative", "axis": null}, "y": {"datum": 12.05, "type": "quantitative", "axis": null}, "text": {"value": "//"}}},
         {"data": {"values": [{}]}, "mark": {"type": "text", "fontSize": 14, "align": "center", "baseline": "middle", "dx": 1.5},
          "encoding": {"x": {"datum": 40, "type": "quantitative", "axis": null}, "y": {"datum": -2.2, "type": "quantitative", "axis": null}, "text": {"value": "//"}}}
        ]
       },
       {
        "width": 447, "height": 141,
        "resolve": {"axis": {"x": "independent", "y": "independent"}},
        "layer": [
         {"data": {"name": "tb_b"}, "transform": [{"filter": "datum.t < 100"}], "mark": {"type": "line", "color": "#000000", "clip": true},
          "encoding": {
           "x": {"field": "t", "type": "quantitative", "scale": {"domain": [0, 40, 560, 600], "range": [0, 222, 225, 447], "nice": false, "zero": false}, "axis": {"orient": "bottom", "values": [0,5,10,15,20,25,30,35,560,565,570,575,580,585,590,595,600], "labelExpr": "datum.value % 10 == 0 ? datum.label : ''", "labelFontSize": 23, "labelPadding": 11.3, "title": "time (seconds)", "titleFontSize": 23, "titlePadding": 1}},
           "y": {"field": "v", "type": "quantitative", "scale": {"domain": [24.7, 85.14], "nice": false, "zero": false}, "axis": {"orient": "left", "values": [30,40,50,60,70,80], "labelExpr": "datum.value % 20 == 0 ? datum.label : ''", "labelFontSize": 23, "labelPadding": 10, "title": "TTC temp. (°C)", "titleFontSize": 23, "titlePadding": 6.4, "titleY": 91}}}},
         {"data": {"name": "tb_b"}, "transform": [{"filter": "datum.t > 100"}], "mark": {"type": "line", "color": "#000000", "clip": true},
          "encoding": {"x": {"field": "t", "type": "quantitative", "axis": null}, "y": {"field": "v", "type": "quantitative", "axis": null}}},
         {"data": {"name": "tb_r"}, "transform": [{"filter": "datum.t < 100"}], "mark": {"type": "line", "color": "#ee1c1c", "clip": true},
          "encoding": {
           "x": {"field": "t", "type": "quantitative", "axis": {"orient": "top", "values": [0,5,10,15,20,25,30,35,560,565,570,575,580,585,590,595,600], "labels": false, "title": null}},
           "y": {"field": "v", "type": "quantitative", "axis": {"orient": "right", "values": [30,40,50,60,70,80], "labels": false, "title": null}}}},
         {"data": {"name": "tb_r"}, "transform": [{"filter": "datum.t > 100"}], "mark": {"type": "line", "color": "#ee1c1c", "clip": true},
          "encoding": {"x": {"field": "t", "type": "quantitative", "axis": null}, "y": {"field": "v", "type": "quantitative", "axis": null}}},
         {"data": {"values": [{}]}, "mark": {"type": "rect", "color": "white"},
          "encoding": {"x": {"datum": 39.2, "type": "quantitative", "axis": null}, "x2": {"datum": 560.9}, "y": {"datum": 86.4, "type": "quantitative", "axis": null}, "y2": {"datum": 84.3}}},
         {"data": {"values": [{}]}, "mark": {"type": "rect", "color": "white"},
          "encoding": {"x": {"datum": 39.2, "type": "quantitative", "axis": null}, "x2": {"datum": 560.9}, "y": {"datum": 25.56, "type": "quantitative", "axis": null}, "y2": {"datum": 23.4}}},
         {"data": {"values": [{}]}, "mark": {"type": "text", "fontSize": 14, "align": "center", "baseline": "middle", "dx": 1.5},
          "encoding": {"x": {"datum": 40, "type": "quantitative", "axis": null}, "y": {"datum": 24.7, "type": "quantitative", "axis": null}, "text": {"value": "//"}}}
        ]
       }
      ]
     }
    ]
   }
  ]
 },
 {
  "bounds": "flush",
  "spacing": 0,
  "resolve": {"scale": {"color": "independent"}, "legend": {"color": "independent"}},
  "hconcat": [
   {"width": 21, "height": 10, "data": {"values": []}, "mark": "point", "encoding": {}},
   {
    "width": 434, "height": 122,
    "resolve": {"axis": {"x": "independent", "y": "independent"}},
    "layer": [
     {"data": {"name": "c_b"}, "mark": {"type": "line", "clip": true, "strokeWidth": 2},
      "encoding": {
       "x": {"field": "t", "type": "quantitative", "scale": {"domain": [0, 600], "nice": false, "zero": false}, "axis": {"orient": "bottom", "values": [0,100,200,300,400,500,600], "labelExpr": "datum.value % 200 == 0 ? datum.label : ''", "labelFontSize": 22, "labelPadding": 10.8, "title": "time (seconds)", "titleFontSize": 23, "titlePadding": 13}},
       "y": {"field": "v", "type": "quantitative", "scale": {"domain": [25, 40], "nice": false, "zero": false}, "axis": {"orient": "left", "values": [25,27.5,30,32.5,35,37.5,40], "labelExpr": "datum.value % 5 == 0 ? datum.label : ''", "labelFontSize": 22, "labelPadding": 19, "title": "screen temp. (°C)", "titleFontSize": 22, "titlePadding": 12.8}},
       "color": {"datum": "no PCM", "scale": {"domain": ["no PCM", "PCM"], "range": ["#000000", "#ee1c1c"]}, "legend": {"orient": "none", "legendX": 320, "legendY": 73, "title": null, "symbolType": "stroke", "symbolSize": 1369, "symbolStrokeWidth": 3, "clipHeight": 19, "labelFontSize": 15, "labelOffset": 3, "padding": 0, "rowPadding": 0}}
      }},
     {"data": {"name": "c_r"}, "mark": {"type": "line", "clip": true, "strokeWidth": 2.4},
      "encoding": {
       "x": {"field": "t", "type": "quantitative", "axis": {"orient": "top", "values": [0,100,200,300,400,500,600], "labels": false, "title": null}},
       "y": {"field": "v", "type": "quantitative", "axis": {"orient": "right", "values": [25,27.5,30,32.5,35,37.5,40], "labels": false, "title": null}},
       "color": {"datum": "PCM"}
      }},
     {"data": {"values": [{}]}, "mark": {"type": "text", "fontSize": 28, "align": "center", "baseline": "alphabetic"},
      "encoding": {"x": {"datum": 43.8, "type": "quantitative", "axis": null}, "y": {"datum": 36.2, "type": "quantitative", "axis": null}, "text": {"value": "(c)"}}}
    ]
   }
  ]
 }
]
}
